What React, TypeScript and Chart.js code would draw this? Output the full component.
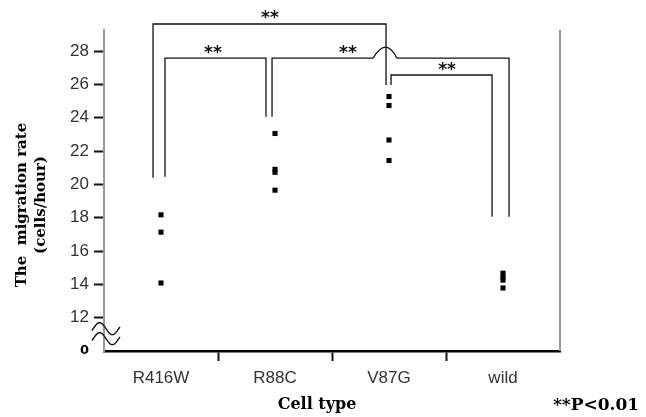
import React, { useEffect, useRef } from 'react';
import { Chart, registerables } from 'chart.js';

Chart.register(...registerables);

// ---- data ----
const categories = ['R416W', 'R88C', 'V87G', 'wild'];
const r416wRates = [18.17, 17.13, 14.08];
const r88cRates = [23.05, 20.9, 20.72, 19.65];
const v87gRates = [25.27, 24.73, 22.66, 21.43];
const wildRates = [14.67, 14.45, 14.25, 13.78];
const seriesByCategory = [r416wRates, r88cRates, v87gRates, wildRates];

const yTickValues = [10, 12, 14, 16, 18, 20, 22, 24, 26, 28];
const yTickLabels = ['0', '12', '14', '16', '18', '20', '22', '24', '26', '28'];
const yMin = 10;
const yMax = 29.26;

// significance brackets in data units: [category position, rate]
const bracketOuter = [[-0.07, 20.4], [-0.07, 29.62], [1.974, 29.62], [1.974, 25.96]];
const bracketR416R88 = [[0.035, 20.45], [0.035, 27.57], [0.921, 27.57], [0.921, 24.05]];
const bracketR88WildLeft = [[0.974, 24.05], [0.974, 27.57], [1.86, 27.57]];
const bracketR88WildHump = [1.86, 1.974, 2.07, 27.57, 28.9];
const bracketR88WildRight = [[2.07, 27.57], [3.053, 27.57], [3.053, 18.05]];
const bracketV87Wild = [[2.018, 25.96], [2.018, 26.56], [2.904, 26.56], [2.904, 18.05]];
const starMarks = [[0.956, 30.25], [0.456, 28.1], [1.64, 28.1], [2.509, 27.12]];
const starText = '**';
const axisBreakRates = [11.34, 10.74];

const yTitleLines = ['The  migration rate', '(cells/hour)'];
const xTitle = 'Cell type';
const noteText = '**P<0.01';

const overlayPlugin = {
  id: 'overlay',
  afterDraw(chart: any) {
    const { ctx, chartArea } = chart;
    const xs = chart.scales.x;
    const ys = chart.scales.y;
    const px = (v: number) => xs.getPixelForValue(v);
    const py = (v: number) => ys.getPixelForValue(v);
    ctx.save();

    // right frame line
    ctx.strokeStyle = '#9a9a9a';
    ctx.lineWidth = 2;
    ctx.beginPath();
    ctx.moveTo(chartArea.right, chartArea.top);
    ctx.lineTo(chartArea.right, chartArea.bottom);
    ctx.stroke();

    // brackets
    ctx.strokeStyle = '#111';
    ctx.lineWidth = 1.3;
    const poly = (pts: number[][]) => {
      ctx.beginPath();
      pts.forEach((p, i) => {
        const X = px(p[0]);
        const Y = py(p[1]);
        if (i === 0) ctx.moveTo(X, Y);
        else ctx.lineTo(X, Y);
      });
      ctx.stroke();
    };
    poly(bracketOuter);
    poly(bracketR416R88);
    poly(bracketR88WildLeft);
    poly(bracketR88WildRight);
    poly(bracketV87Wild);
    const [h0, hMid, h1, hBase, hCtrl] = bracketR88WildHump;
    ctx.beginPath();
    ctx.moveTo(px(h0), py(hBase));
    ctx.quadraticCurveTo(px(hMid), py(hCtrl), px(h1), py(hBase));
    ctx.stroke();

    // stars
    ctx.fillStyle = '#111';
    ctx.font = "bold 17px 'DejaVu Sans'";
    ctx.textAlign = 'center';
    ctx.textBaseline = 'alphabetic';
    starMarks.forEach((s) => {
      ctx.fillText(starText, px(s[0]), py(s[1]) + 9);
    });

    // axis break waves
    ctx.lineWidth = 1.4;
    axisBreakRates.forEach((r) => {
      const cy = py(r);
      const x0 = chartArea.left - 12;
      ctx.beginPath();
      for (let k = 0; k <= 40; k++) {
        const t = k / 40;
        const X = x0 + 28 * t;
        const Y = cy - 6 * Math.sin(2 * Math.PI * (t * 1.1 - 0.05));
        if (k === 0) ctx.moveTo(X, Y);
        else ctx.lineTo(X, Y);
      }
      ctx.stroke();
    });

    // titles
    ctx.fillStyle = '#000';
    ctx.textAlign = 'center';
    ctx.textBaseline = 'middle';
    ctx.font = "bold 15px 'DejaVu Serif'";
    const ty = 205;
    yTitleLines.forEach((line, i) => {
      ctx.save();
      ctx.translate(22 + i * 19, ty);
      ctx.rotate(-Math.PI / 2);
      ctx.fillText(line, 0, 0);
      ctx.restore();
    });
    ctx.font = "bold 16px 'DejaVu Serif'";
    ctx.fillText(xTitle, 317, 405);
    ctx.font = "bold 17px 'DejaVu Serif'";
    ctx.fillText(noteText, 596, 406);
    ctx.restore();
  },
};

export default function App() {
  const canvasRef = useRef<HTMLCanvasElement | null>(null);

  useEffect(() => {
    const canvas = canvasRef.current;
    if (!canvas) return;
    const datasets = categories.map((cat, ci) => ({
      label: cat,
      data: seriesByCategory[ci].map((v) => ({ x: cat, y: v })),
      backgroundColor: '#000',
      borderColor: '#000',
      borderWidth: 0,
      pointStyle: 'rect',
      pointRadius: 3.6,
      pointBorderWidth: 0,
      showLine: false,
    }));

    const chart = new Chart(canvas, {
      type: 'scatter',
      data: { labels: categories, datasets } as any,
      plugins: [overlayPlugin],
      options: {
        responsive: false,
        animation: false,
        events: [],
        layout: { padding: { left: 0, top: 30, right: 86, bottom: 0 } },
        plugins: {
          legend: { display: false },
          tooltip: { enabled: false },
          title: { display: false },
        },
        scales: {
          x: {
            type: 'category',
            labels: categories,
            offset: true,
            afterFit: (s: any) => {
              s.height = 66;
            },
            border: { display: true, color: '#000', width: 2.5 },
            grid: {
              offset: true,
              drawOnChartArea: false,
              drawTicks: true,
              tickLength: 10,
              tickWidth: 2,
              tickColor: (c: any) =>
                c.type !== 'tick' || c.index === 0 ? 'rgba(0,0,0,0)' : '#111',
            },
            ticks: {
              color: '#333',
              padding: 7,
              font: { family: "'Liberation Sans', Arial, sans-serif", size: 17 },
            },
          },
          y: {
            type: 'linear',
            min: yMin,
            max: yMax,
            afterFit: (s: any) => {
              s.width = 104;
            },
            afterBuildTicks: (s: any) => {
              s.ticks = yTickValues.map((v) => ({ value: v }));
            },
            border: { display: true, color: '#9a9a9a', width: 2 },
            grid: {
              drawOnChartArea: false,
              drawTicks: true,
              tickLength: 10,
              tickWidth: 2,
              tickColor: (c: any) =>
                c.tick && c.tick.value === yMin ? 'rgba(0,0,0,0)' : '#111',
            },
            ticks: {
              padding: 5,
              callback: (v: any) => {
                const idx = yTickValues.indexOf(Number(v));
                return idx >= 0 ? yTickLabels[idx] : '';
              },
              color: (c: any) => (c.tick && c.tick.value === yMin ? '#000' : '#333'),
              font: (c: any) =>
                c.tick && c.tick.value === yMin
                  ? { family: "'DejaVu Sans'", size: 13, weight: 'bold' }
                  : { family: "'Liberation Sans', Arial, sans-serif", size: 17 },
            },
          },
        },
      } as any,
    });
    return () => chart.destroy();
  }, []);

  return (
    <div style={{ position: 'absolute', left: 0, top: 0, width: 646, height: 417 }}>
      <canvas ref={canvasRef} width={646} height={417} style={{ display: 'block' }} />
    </div>
  );
}
